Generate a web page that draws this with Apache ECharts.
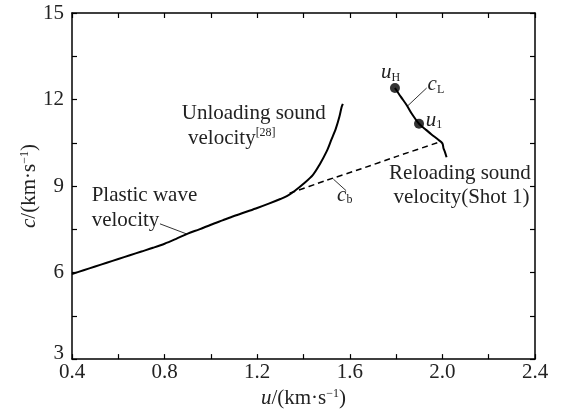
<!DOCTYPE html>
<html>
<head>
<meta charset="utf-8">
<script src="https://cdn.jsdelivr.net/npm/echarts@6/dist/echarts.min.js"></script>
<style>
html,body{margin:0;padding:0;background:#fff;}
#chart{width:561px;height:414px;}
</style>
</head>
<body>
<div id="chart"></div>
<script>
// ---- data (u in km/s, c in km/s) ----
const plasticUnloadingU = [0.40,0.45,0.50,0.55,0.60,0.65,0.70,0.75,0.80,0.85,0.90,0.95,1.00,1.05,1.10,1.15,1.20,1.25,1.30,1.33,1.36,1.40,1.44,1.47,1.50,1.52,1.54,1.555,1.565,1.57];
const plasticUnloadingC = [5.95,6.08,6.21,6.34,6.47,6.60,6.73,6.86,7.00,7.17,7.35,7.50,7.66,7.81,7.96,8.10,8.24,8.39,8.55,8.66,8.82,9.08,9.38,9.75,10.20,10.60,11.00,11.40,11.75,11.85];
const bulkU = [1.34,1.50,1.65,1.80,1.985];
const bulkC = [8.75,9.20,9.60,10.02,10.52];
const reloadU = [1.795,1.82,1.846,1.87,1.899,1.925,1.953,1.98,2.00,2.005,2.01,2.018];
const reloadC = [12.40,12.10,11.80,11.48,11.16,10.98,10.79,10.62,10.48,10.30,10.20,10.00];
const markU = [1.795,1.899];   // u_H, u_1
const markC = [12.40,11.16];
const xTickLabels = ['0.4','0.8','1.2','1.6','2.0','2.4'];
const yTickLabels = ['3','6','9','12','15'];

const zip = (a,b) => a.map((v,i)=>[v,b[i]]);
const FONT = 'Liberation Serif';
const FS = 21;

const chart = echarts.init(document.getElementById('chart'));

const axisLineStyle = {lineStyle:{color:'#000',width:1.5}};
const tickStyle = {inside:true,length:5,lineStyle:{color:'#000',width:1.2}};
const nameRich = {
  i:{fontStyle:'italic',fontFamily:FONT,fontSize:FS,color:'#222'},
  sup:{fontFamily:FONT,fontSize:12,verticalAlign:'top',color:'#222'}
};

const option = {
  backgroundColor:'#fff',
  animation:false,
  grid:{left:72,right:26,top:13,bottom:53},
  xAxis:[{
    type:'value',min:0.4,max:2.4,interval:0.2,
    axisLine:axisLineStyle,axisTick:tickStyle,splitLine:{show:false},
    axisLabel:{
      color:'#222',fontFamily:FONT,fontSize:FS,margin:3,
      formatter:v=>{const s=v.toFixed(1);return xTickLabels.includes(s)?s:'';}
    },
    name:'{i|u}/(km·s{sup|−1})',nameLocation:'middle',nameGap:28,
    nameTextStyle:{color:'#222',fontFamily:FONT,fontSize:FS,rich:nameRich}
  },{
    type:'value',min:0.4,max:2.4,interval:0.2,position:'top',
    axisLine:axisLineStyle,axisTick:tickStyle,axisLabel:{show:false},splitLine:{show:false}
  }],
  yAxis:[{
    type:'value',min:3,max:15,interval:1.5,
    axisLine:axisLineStyle,axisTick:tickStyle,splitLine:{show:false},
    axisLabel:{
      color:'#222',fontFamily:FONT,fontSize:FS,margin:8,
      formatter:v=>{const s=String(v);if(!yTickLabels.includes(s))return '';return s==='3'?'{up|3}':s;},
      rich:{up:{fontFamily:FONT,fontSize:FS,color:'#222',padding:[0,0,12,0]}}
    },
    name:'{i|c}/(km·s{sup|−1})',nameLocation:'middle',nameGap:32,nameRotate:90,
    nameMoveOverlap:false,
    nameTextStyle:{color:'#222',fontFamily:FONT,fontSize:FS,rich:nameRich}
  },{
    type:'value',min:3,max:15,interval:1.5,position:'right',
    axisLine:axisLineStyle,axisTick:tickStyle,axisLabel:{show:false},splitLine:{show:false}
  }],
  series:[
    {type:'line',name:'plastic+unloading',data:zip(plasticUnloadingU,plasticUnloadingC),
     showSymbol:false,smooth:0.3,lineStyle:{color:'#000',width:2}},
    {type:'line',name:'cb',data:zip(bulkU,bulkC),
     showSymbol:false,smooth:0.2,lineStyle:{color:'#000',width:1.5,type:[6,4]}},
    {type:'line',name:'reloading',data:zip(reloadU,reloadC),
     showSymbol:false,smooth:0.3,lineStyle:{color:'#000',width:2}},
    {type:'scatter',name:'marks',data:zip(markU,markC),symbol:'circle',symbolSize:10,
     itemStyle:{color:'#000'},z:5}
  ]
};
chart.setOption(option);

// ---- annotations (anchored in data coordinates) ----
const notes = [
  {t:'Unloading sound',at:[0.874,11.52],align:'left'},
  {t:'velocity{sup|[28]}',at:[0.901,10.66],align:'left'},
  {t:'Plastic wave',at:[0.485,8.66],align:'left'},
  {t:'velocity',at:[0.485,7.79],align:'left'},
  {t:'Reloading sound',at:[2.382,9.45],align:'right'},
  {t:'velocity(Shot 1)',at:[2.376,8.59],align:'right'},
  {t:'{i|u}{sub|H}',at:[1.735,12.93],align:'left'},
  {t:'{i|c}{sub|L}',at:[1.936,12.52],align:'left'},
  {t:'{i|u}{sub|1}',at:[1.928,11.28],align:'left'},
  {t:'{i|c}{sub|b}',at:[1.545,8.69],align:'left'}
];
const leaders = [
  [[0.78,7.69],[0.895,7.34]],
  [[1.932,12.40],[1.85,11.78]],
  [[1.529,9.24],[1.584,8.84]]
];
const rich = {
  i:{fontStyle:'italic',fontFamily:FONT,fontSize:FS,color:'#222',lineHeight:22},
  sub:{fontFamily:FONT,fontSize:12,color:'#222',verticalAlign:'bottom',lineHeight:16},
  sup:{fontFamily:FONT,fontSize:12,color:'#222',verticalAlign:'top',lineHeight:22}
};
const px = p => chart.convertToPixel({gridIndex:0},p);
const graphics = [];
notes.forEach(n=>{
  const p = px(n.at);
  graphics.push({type:'text',x:p[0],y:p[1],silent:true,
    style:{text:n.t,rich:rich,fontFamily:FONT,fontSize:FS,fill:'#222',
      align:n.align,verticalAlign:'middle'}});
});
leaders.forEach(l=>{
  const a = px(l[0]), b = px(l[1]);
  graphics.push({type:'line',silent:true,shape:{x1:a[0],y1:a[1],x2:b[0],y2:b[1]},
    style:{stroke:'#333',lineWidth:1}});
});
chart.setOption({graphic:graphics});
</script>
</body>
</html>
